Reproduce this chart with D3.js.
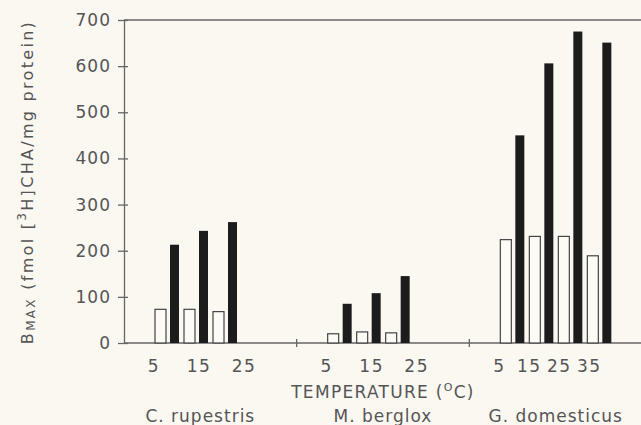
<!DOCTYPE html>
<html>
<head>
<meta charset="utf-8">
<script src="https://cdn.jsdelivr.net/npm/d3@7"></script>
<style>
  body { margin: 0; background: #fbf8f2; }
  svg { display: block; }
  text { font-family: "DejaVu Sans", sans-serif; fill: #555; }
  .axis path, .axis line { stroke: #666; stroke-width: 1.3; }
</style>
</head>
<body>
<div id="chart"></div>
<script>
// Bmax of [3H]CHA binding vs acclimation temperature
var species = ["C. rupestris", "M. berglox", "G. domesticus"];
var temperatures = [[5, 15, 25], [5, 15, 25], [5, 15, 25, 35]];
var openValues = [[73, 73, 68], [20, 24, 22], [224, 231, 231, 189]];
var filledValues = [[213, 243, 262], [85, 108, 145], [450, 606, 675, 651]];
var yTicks = [0, 100, 200, 300, 400, 500, 600, 700];

(function () {
var width = 641, height = 425,
    plotLeft = 124, plotTop = 20, plotBottom = 343;

var svg = d3.select("#chart").append("svg")
    .attr("width", width)
    .attr("height", height);

var y = d3.scaleLinear()
    .domain([0, 700])
    .range([plotBottom, plotTop]);

var group = d3.scaleBand()
    .domain(species)
    .range([plotLeft, 642]);

// position of a temperature inside its group
var slot = d3.scaleLinear()
    .domain([5, 35])
    .range([31, 31 + 87]);

// tick labels are spread a bit wider than the bars
var labelPos = d3.scaleLinear()
    .range([30, 120]);

// top frame line
svg.append("line")
    .attr("x1", plotLeft).attr("x2", width)
    .attr("y1", y(700)).attr("y2", y(700))
    .attr("stroke", "#666").attr("stroke-width", 1.3);

// baseline
svg.append("line")
    .attr("x1", plotLeft).attr("x2", width)
    .attr("y1", y(0)).attr("y2", y(0))
    .attr("stroke", "#666").attr("stroke-width", 1.3);

// group separator ticks
species.slice(1).forEach(function(s) {
  svg.append("line")
      .attr("x1", group(s)).attr("x2", group(s))
      .attr("y1", y(0) - 4).attr("y2", y(0) + 4)
      .attr("stroke", "#666").attr("stroke-width", 1.3);
});

var yAxis = svg.append("g")
    .attr("class", "axis")
    .attr("transform", "translate(" + plotLeft + ",0)")
    .call(d3.axisLeft(y).tickValues(yTicks).tickSizeInner(6).tickSizeOuter(0).tickPadding(7));

yAxis.selectAll("text")
    .style("font-size", "17px")
    .style("letter-spacing", "1px")
    .attr("fill", "#555");

svg.append("g")
    .attr("class", "axis")
    .attr("transform", "translate(" + plotLeft + ",0)")
    .call(d3.axisRight(y).tickValues(yTicks).tickSize(4).tickFormat(""))
    .select(".domain").remove();

// bars
species.forEach(function(s, i) {
  var g = svg.append("g").attr("transform", "translate(" + group(s) + ",0)");

  g.selectAll(".open")
      .data(openValues[i])
    .enter().append("rect")
      .attr("class", "open")
      .attr("x", function(d, j) { return slot(temperatures[i][j]); })
      .attr("width", 11)
      .attr("y", function(d) { return y(d); })
      .attr("height", function(d) { return y(0) - y(d); })
      .attr("fill", "#fdfbf6")
      .attr("stroke", "#444")
      .attr("stroke-width", 1.2);

  g.selectAll(".filled")
      .data(filledValues[i])
    .enter().append("rect")
      .attr("class", "filled")
      .attr("x", function(d, j) { return slot(temperatures[i][j]) + 15; })
      .attr("width", 9)
      .attr("y", function(d) { return y(d); })
      .attr("height", function(d) { return y(0) - y(d); })
      .attr("fill", "#1c1c1c");

  var lp = labelPos.copy().domain(d3.extent(temperatures[i]));
  g.selectAll(".tlabel")
      .data(temperatures[i])
    .enter().append("text")
      .attr("x", function(d) { return lp(d); })
      .attr("y", 372)
      .attr("text-anchor", "middle")
      .style("font-size", "17px")
      .style("letter-spacing", "1.5px")
      .text(function(d) { return d; });

  svg.append("text")
      .attr("x", group(s) + group.bandwidth() / 2 - (i === 0 ? 10 : 0))
      .attr("y", 422)
      .attr("text-anchor", "middle")
      .style("font-size", "17px")
      .style("letter-spacing", "1px")
      .text(s);
});

// x title
var xt = svg.append("text")
    .attr("x", group(species[1]) + group.bandwidth() / 2)
    .attr("y", 398)
    .attr("text-anchor", "middle")
    .style("font-size", "17px")
    .style("letter-spacing", "1.3px");
xt.append("tspan").text("TEMPERATURE (");
xt.append("tspan").attr("dy", -7).style("font-size", "11px").text("O");
xt.append("tspan").attr("dy", 7).text("C)");

// y title
var yt = svg.append("text")
    .attr("transform", "translate(33,182) rotate(-90)")
    .attr("text-anchor", "middle")
    .style("font-size", "16px")
    .style("letter-spacing", "2.3px");
yt.append("tspan").text("B");
yt.append("tspan").attr("dy", 2).style("font-size", "12px").text("MAX");
yt.append("tspan").attr("dy", -2).text(" (fmol [");
yt.append("tspan").attr("dy", -7).style("font-size", "12px").text("3");
yt.append("tspan").attr("dy", 7).text("H]CHA/mg protein)");
})();
</script>
</body>
</html>
